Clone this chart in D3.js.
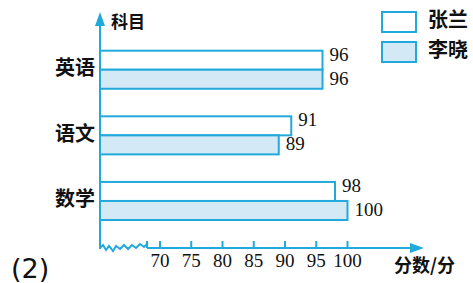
<!DOCTYPE html>
<html>
<head>
<meta charset="utf-8">
<script src="https://cdn.jsdelivr.net/npm/d3@7"></script>
<style>
  body { margin: 0; background: #fff; }
  svg { display: block; }
</style>
</head>
<body>
<svg id="chart"></svg>
<script>
// subjects and scores
var subjects = ["英语", "语文", "数学"];
var series = ["张兰", "李晓"];
var zhangLan = [96, 91, 98];
var liXiao = [96, 89, 100];
var ticks = [70, 75, 80, 85, 90, 95, 100];

var W = 473, H = 283;
var blue = "#22a9db", light = "#d3e9f6";
var ox = 100, oy = 248; // axis origin

var svg = d3.select("#chart").attr("width", W).attr("height", H);

var x = d3.scaleLinear().domain([70, 100]).range([160, 347.5]);
var y = d3.scaleBand().domain(subjects).range([50.7, 220]).paddingInner(0.42).paddingOuter(0);
var ys = d3.scaleBand().domain(series).range([0, y.bandwidth()]);

var rows = [];
subjects.forEach(function(s, i) {
  rows.push({ subj: s, ser: series[0], v: zhangLan[i] });
  rows.push({ subj: s, ser: series[1], v: liXiao[i] });
});

// bars
svg.selectAll("rect.bar")
  .data(rows)
  .enter()
  .append("rect")
  .attr("class", "bar")
  .attr("x", ox)
  .attr("y", function(d) { return y(d.subj) + ys(d.ser); })
  .attr("width", function(d) { return x(d.v) - ox; })
  .attr("height", ys.bandwidth())
  .attr("fill", function(d) { return d.ser == series[0] ? "#fff" : light; })
  .attr("stroke", blue)
  .attr("stroke-width", 2);

// value labels (top one nudged up, bottom one down so they don't touch)
svg.selectAll("text.val")
  .data(rows)
  .enter()
  .append("text")
  .attr("class", "val")
  .attr("x", function(d) { return x(d.v) + 7; })
  .attr("y", function(d) {
    var off = d.ser == series[0] ? -4 : 1;
    return y(d.subj) + ys(d.ser) + ys.bandwidth() / 2 + off;
  })
  .attr("dominant-baseline", "middle")
  .style("font-family", "Liberation Serif")
  .style("font-size", "19px")
  .attr("fill", "#111")
  .text(function(d) { return d.v; });

// subject labels
svg.selectAll("text.cat")
  .data(subjects)
  .enter()
  .append("text")
  .attr("class", "cat")
  .attr("x", 95)
  .attr("y", function(d) { return y(d) + y.bandwidth() / 2; })
  .attr("text-anchor", "end")
  .attr("dominant-baseline", "middle")
  .style("font-family", "Noto Sans CJK SC")
  .style("font-weight", "bold")
  .style("font-size", "20px")
  .attr("fill", "#111")
  .text(function(d) { return d; });

// axes
svg.append("line").attr("x1", ox).attr("y1", oy + 1).attr("x2", ox).attr("y2", 20)
  .attr("stroke", blue).attr("stroke-width", 2);
svg.append("path").attr("d", "M" + (ox - 5) + ",26 L" + ox + ",12 L" + (ox + 5) + ",26 Z").attr("fill", blue);

var zig = [[100,248],[103,245],[106,250],[109,246],[113,251],[116,246],[120,249],[124,245],[128,249],[132,245],[136,248],[140,244],[144,247],[147,244]];
svg.append("path").attr("d", d3.line()(zig)).attr("fill", "none")
  .attr("stroke", blue).attr("stroke-width", 2);
svg.append("line").attr("x1", 147).attr("y1", 241).attr("x2", 147).attr("y2", oy)
  .attr("stroke", blue).attr("stroke-width", 2);
svg.append("line").attr("x1", 147).attr("y1", oy).attr("x2", 412).attr("y2", oy)
  .attr("stroke", blue).attr("stroke-width", 2);
svg.append("path").attr("d", "M410," + (oy - 5) + " L424," + oy + " L410," + (oy + 5) + " Z").attr("fill", blue);

svg.selectAll("line.tick")
  .data(ticks)
  .enter()
  .append("line")
  .attr("class", "tick")
  .attr("x1", function(d) { return x(d); })
  .attr("x2", function(d) { return x(d); })
  .attr("y1", oy - 7)
  .attr("y2", oy)
  .attr("stroke", blue)
  .attr("stroke-width", 2);

svg.selectAll("text.tl")
  .data(ticks)
  .enter()
  .append("text")
  .attr("class", "tl")
  .attr("x", function(d) { return x(d); })
  .attr("y", 267)
  .attr("text-anchor", "middle")
  .style("font-family", "Liberation Serif")
  .style("font-size", "19px")
  .attr("fill", "#111")
  .text(function(d) { return d; });

// axis titles
svg.append("text").attr("x", 111).attr("y", 28)
  .style("font-family", "Noto Sans CJK SC").style("font-weight", "bold").style("font-size", "17px")
  .attr("fill", "#111").text("科目");
svg.append("text").attr("x", 394).attr("y", 272)
  .style("font-family", "Noto Sans CJK SC").style("font-weight", "bold").style("font-size", "18px")
  .attr("fill", "#111").text("分数/分");

// legend
var leg = svg.selectAll("g.leg")
  .data(series)
  .enter()
  .append("g")
  .attr("class", "leg")
  .attr("transform", function(d, i) { return "translate(382," + (12 + i * 30) + ")"; });
leg.append("rect")
  .attr("width", 34).attr("height", 20)
  .attr("fill", function(d, i) { return i == 0 ? "#fff" : light; })
  .attr("stroke", blue).attr("stroke-width", 2);
leg.append("text")
  .attr("x", 46).attr("y", 10)
  .attr("dominant-baseline", "middle")
  .style("font-family", "Noto Sans CJK SC").style("font-weight", "bold").style("font-size", "20px")
  .attr("fill", "#111")
  .text(function(d) { return d; });

// panel label
svg.append("text").attr("x", 11).attr("y", 278)
  .style("font-family", "DejaVu Sans").style("font-size", "27px")
  .attr("fill", "#111").text("(2)");
</script>
</body>
</html>
